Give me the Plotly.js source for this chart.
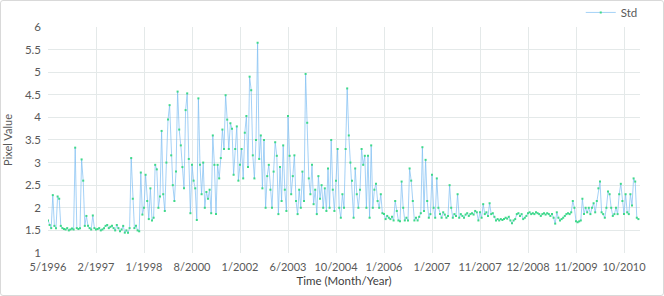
<!DOCTYPE html>
<html>
<head>
<meta charset="utf-8">
<script src="https://cdn.plot.ly/plotly-3.0.1.min.js"></script>
<style>
html,body{margin:0;padding:0;background:#fff;}
#wrap{position:relative;width:664px;height:296px;}
#chart{width:664px;height:296px;}
#frame{position:absolute;left:0;top:0;width:662px;height:294px;border:1px solid #d9d9d9;border-radius:3px;pointer-events:none;}
</style>
</head>
<body>
<div id="wrap"><div id="chart"></div><div id="frame"></div></div>
<script>
// Tick labels (every 30 samples)
const tickLabels = ["5/1996","2/1997","1/1998","8/2000","1/2002","6/2003","10/2004","1/2006","1/2007","11/2007","12/2008","11/2009","10/2010"];
const samplesPerLabel = 30;

// Std values, one block per labelled interval
const std_5_1996 = [1.72,1.62,1.55,2.28,1.6,1.55,2.25,2.2,1.6,1.55,1.53,1.52,1.55,1.5,1.52,1.54,1.52,3.33,1.55,1.53,1.55,3.07,2.6,1.6,1.82,1.6,1.55,1.52,1.83,1.55];
const std_2_1997 = [1.52,1.53,1.55,1.5,1.52,1.55,1.6,1.62,1.55,1.58,1.6,1.55,1.5,1.62,1.55,1.48,1.52,1.6,1.45,1.5,1.45,1.55,3.1,2.2,1.55,1.6,1.5,1.48,2.78,1.85];
const std_1_1998 = [2.0,2.73,2.15,1.75,2.43,1.72,1.78,2.95,2.85,2.0,2.25,3.7,2.3,1.93,3.0,3.95,4.27,3.16,2.5,2.15,2.8,4.57,3.73,3.38,2.9,2.43,4.16,4.53,3.08,1.88];
const std_8_2000 = [2.95,2.6,2.43,1.73,4.42,2.95,2.3,3.0,2.0,2.35,2.2,2.4,1.88,3.6,2.95,1.86,2.95,2.65,3.1,3.73,3.3,4.49,3.95,3.3,3.87,3.75,2.73,3.3,3.8,2.6];
const std_1_2002 = [2.95,3.3,2.65,3.66,4.03,2.9,4.9,4.6,3.16,2.65,3.5,5.65,3.08,3.6,2.43,3.5,2.0,2.7,2.95,2.4,2.0,2.8,3.45,3.15,1.86,2.9,2.15,3.38,2.4,1.93];
const std_6_2003 = [4.03,3.15,2.3,2.7,3.16,2.15,1.86,2.4,2.0,2.8,2.15,4.96,3.88,2.65,2.3,2.95,2.08,2.4,1.86,2.7,2.2,2.5,2.0,2.43,1.93,2.87,2.0,3.5,2.4,1.93];
const std_10_2004 = [2.6,3.3,2.0,1.78,2.3,2.0,3.3,4.64,3.6,3.0,2.6,1.78,2.87,2.3,2.0,2.4,3.3,2.95,3.15,2.0,3.15,1.78,3.38,2.0,2.4,2.53,2.15,2.0,2.3,1.88];
const std_1_2006 = [1.86,1.75,1.82,1.78,1.75,1.8,1.72,2.15,1.93,1.72,1.7,2.58,2.0,1.72,1.78,1.72,2.87,2.6,2.15,1.72,1.78,1.72,1.8,1.88,3.34,1.93,3.06,2.15,1.78,1.86];
const std_1_2007 = [2.73,2.0,1.78,2.65,2.0,1.86,1.78,1.9,1.85,1.78,1.82,2.5,2.0,1.78,1.86,1.82,2.3,1.78,1.86,1.82,1.78,1.85,1.88,1.82,1.86,1.88,1.85,1.93,1.9,1.72];
const std_11_2007 = [1.9,1.78,2.08,1.86,1.9,1.82,2.1,1.86,1.88,1.8,1.72,1.75,1.72,1.75,1.73,1.75,1.78,1.76,1.8,1.72,1.66,1.72,1.75,1.86,1.88,1.82,1.86,1.75,1.78,1.82];
const std_12_2008 = [1.88,1.9,1.86,1.88,1.86,1.9,1.88,1.86,1.82,1.86,1.88,1.85,1.88,1.86,1.82,1.86,1.78,1.65,1.9,1.78,1.72,1.75,1.78,1.82,1.86,1.88,1.86,1.9,2.15,2.0];
const std_11_2009 = [1.7,1.68,1.7,1.72,2.2,1.86,2.0,1.9,2.0,1.86,2.0,2.1,1.9,2.15,2.43,2.58,1.9,1.86,1.78,2.0,2.36,2.3,2.0,1.82,1.86,2.0,1.86,2.3,2.53,2.15];
const std_10_2010 = [1.86,2.3,1.9,1.86,2.3,2.05,2.65,2.58,1.78,1.75];

const stdValues = [].concat(std_5_1996,std_2_1997,std_1_1998,std_8_2000,std_1_2002,std_6_2003,
  std_10_2004,std_1_2006,std_1_2007,std_11_2007,std_12_2008,std_11_2009,std_10_2010);
const sampleIndex = stdValues.map((_, i) => i);
const tickVals = tickLabels.map((_, i) => i * samplesPerLabel);

const fontFam = 'Lato, "Open Sans", sans-serif';
const grey = '#595959';
const gridC = '#e4e9e9';

Plotly.newPlot('chart', [{
  x: sampleIndex,
  y: stdValues,
  type: 'scatter',
  mode: 'lines+markers',
  name: 'Std',
  line: {color: 'rgba(125,190,242,0.7)', width: 1},
  marker: {color: '#3fd98a', size: 2, symbol: 'square'}
}], {
  width: 664, height: 296,
  margin: {l: 48, r: 24, t: 22, b: 43},
  paper_bgcolor: '#fff', plot_bgcolor: '#fff',
  font: {family: fontFam, color: grey, size: 11},
  showlegend: true,
  legend: {xref: 'container', yref: 'container', x: 0.968, xanchor: 'right', y: 0.958, yanchor: 'middle',
    orientation: 'h', font: {family: fontFam, size: 11.5, color: grey}, bgcolor: 'rgba(0,0,0,0)', itemwidth: 30},
  xaxis: {
    range: [0, 370], tickmode: 'array', tickvals: tickVals, ticktext: tickLabels, tickangle: 0,
    showgrid: true, gridcolor: gridC, gridwidth: 1, zeroline: false,
    showline: false, ticks: '', ticklabelstandoff: 6, tickfont: {family: fontFam, size: 11, color: grey},
    title: {text: 'Time (Month/Year)', font: {family: fontFam, size: 11.5, color: '#404040'}, standoff: 4}
  },
  yaxis: {
    range: [1, 6], dtick: 0.5, tick0: 1,
    showgrid: true, gridcolor: gridC, gridwidth: 1, zeroline: false,
    showline: false, ticks: '', ticklabelstandoff: 6, tickfont: {family: fontFam, size: 11.5, color: grey},
    title: {text: 'Pixel Value', font: {family: fontFam, size: 11, color: grey}, standoff: 10}
  }
}, {displayModeBar: false, staticPlot: true});
</script>
</body>
</html>
